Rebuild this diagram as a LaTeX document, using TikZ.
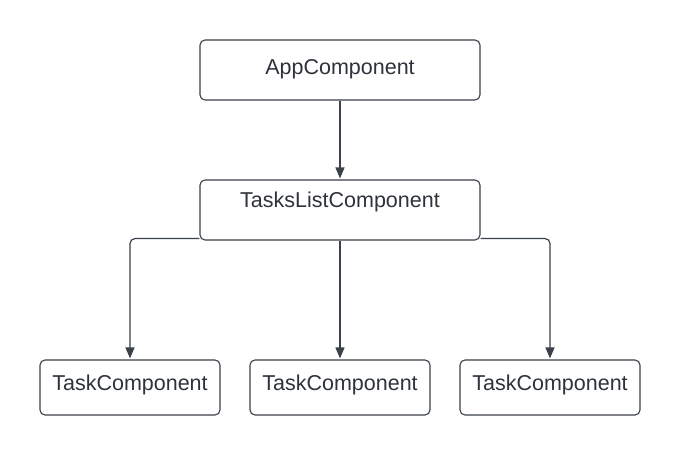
\documentclass[tikz,border=0pt]{standalone}
\usepackage{fontspec}
\setmainfont{Liberation Sans}
\usetikzlibrary{arrows.meta}
\definecolor{linec}{HTML}{3A414A}
\definecolor{textc}{HTML}{2E333B}
\tikzset{
  box/.style={draw=linec, line width=1.1pt, rounded corners=5pt, fill=white,
    text=textc, font=\fontsize{21.5pt}{24pt}\selectfont, inner sep=0pt,
    minimum height=60pt, minimum width=280pt},
  smallbox/.style={box, minimum width=180pt, minimum height=55pt, text depth=10pt},
  conn/.style={draw=linec, line width=1.2pt, rounded corners=5pt,
    -{Triangle[length=11pt,width=9pt]}, shorten >=1pt}
}
\begin{document}
\begin{tikzpicture}[x=1pt,y=-1pt]
\useasboundingbox (0,0) rectangle (680,455);
\node[box, text depth=7pt] (app) at (340,70) {AppComponent};
\node[box, text height=27pt, text depth=33pt] (tl) at (340,210) {TasksListComponent};
\node[smallbox] (t1) at (130,387.5) {TaskComponent};
\node[smallbox] (t2) at (340,387.5) {TaskComponent};
\node[smallbox] (t3) at (550,387.5) {TaskComponent};
\draw[conn] (app.south) -- (tl.north);
\draw[conn] ([yshift=2pt]tl.south west) -| (t1.north);
\draw[conn] (tl.south) -- (t2.north);
\draw[conn] ([yshift=2pt]tl.south east) -| (t3.north);
\end{tikzpicture}
\end{document}
